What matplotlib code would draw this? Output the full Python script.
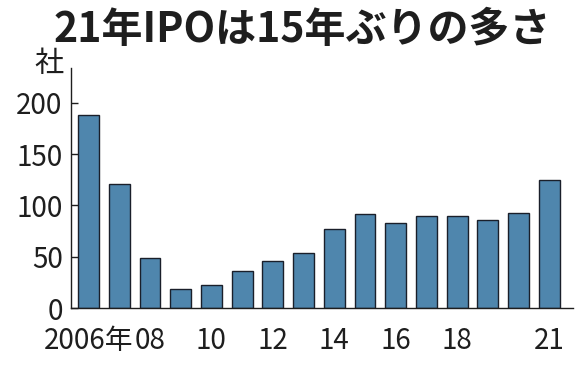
import matplotlib
matplotlib.use("Agg")
import matplotlib.pyplot as plt

years = list(range(2006, 2022))
ipo_counts = [188, 121, 49, 19, 22, 36, 46, 54, 77, 92, 83, 90, 90, 86, 93, 125]
tick_idx = [0, 2, 4, 6, 8, 10, 12, 15]
tick_labels = ["2006年", "08", "10", "12", "14", "16", "18", "21"]
y_ticks = [0, 50, 100, 150, 200]

plt.rcParams['font.family'] = ['Noto Sans CJK JP', 'DejaVu Sans']
txt = "#1e1e1e"

fig = plt.figure(figsize=(5.88, 3.67), dpi=100)
ax = fig.add_axes([71/588, 1-308/367, (573-71)/588, (308-68)/367])

x = list(range(len(years)))
ax.bar(x, ipo_counts, width=0.68, color="#4f86ad", edgecolor="#1a1f2a", linewidth=1.0, zorder=2)

ax.set_xlim(-0.57, 15.77)
ax.set_ylim(0, 234)
ax.set_yticks(y_ticks)
ax.set_yticklabels([str(v) for v in y_ticks], fontsize=20, color=txt)
ax.set_xticks(tick_idx)
ax.set_xticklabels(tick_labels, fontsize=20, color=txt)
ax.tick_params(axis='x', length=0, pad=13)
ax.tick_params(axis='y', direction='in', length=5, width=1, color=txt, pad=6)

for s in ['top', 'right']:
    ax.spines[s].set_visible(False)
for s in ['left', 'bottom']:
    ax.spines[s].set_color(txt)
    ax.spines[s].set_linewidth(1)

fig.text(302/588, 1-30/367, "21年IPOは15年ぶりの多さ", ha='center', va='center',
         fontsize=29.5, fontweight='bold', color=txt)
fig.text(49/588, 1-64/367, "社", ha='center', va='center', fontsize=21, color=txt)

fig.savefig("out.png", dpi=100)
